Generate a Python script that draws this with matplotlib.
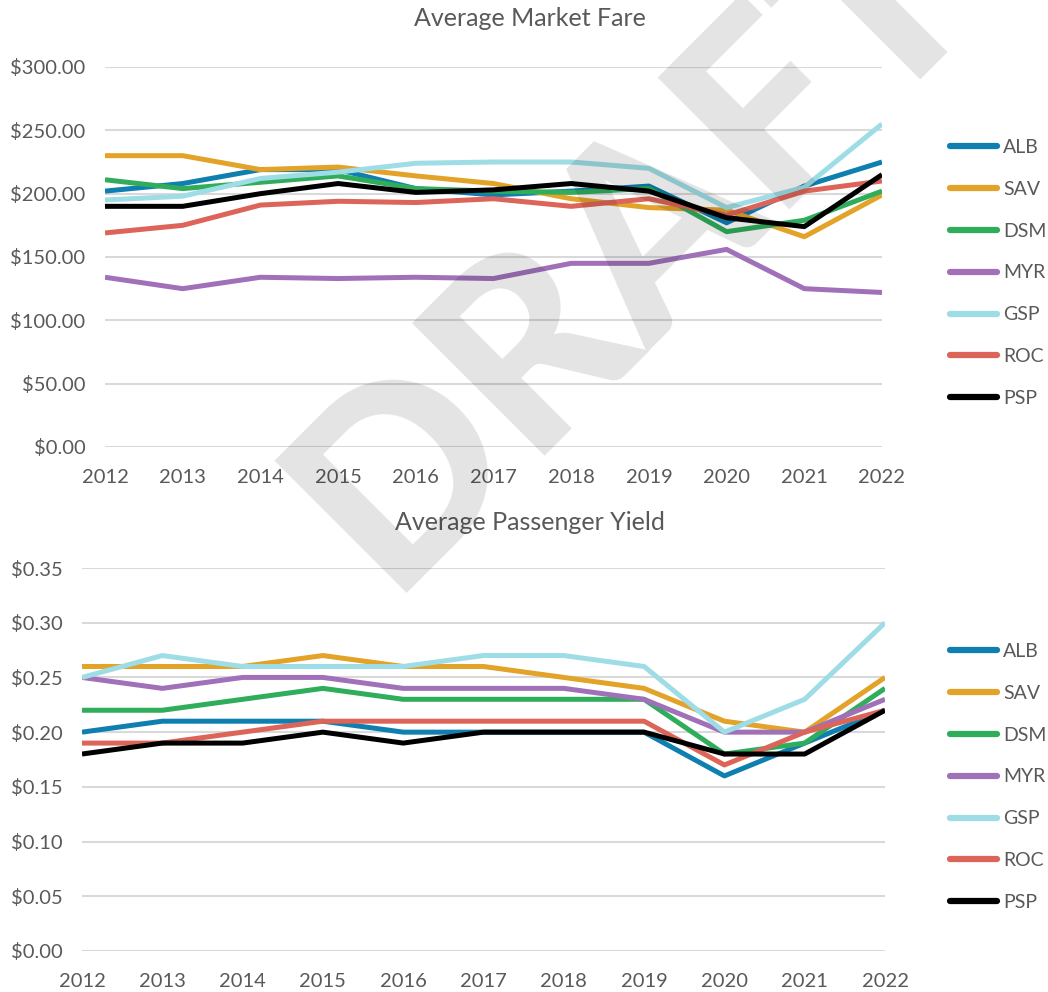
import matplotlib.pyplot as plt
from matplotlib.ticker import FuncFormatter

plt.rcParams['font.family'] = ['Lato', 'DejaVu Sans']

years = [2012, 2013, 2014, 2015, 2016, 2017, 2018, 2019, 2020, 2021, 2022]
airports = ["ALB", "SAV", "DSM", "MYR", "GSP", "ROC", "PSP"]
colors = ["#0f7fb0", "#e3a228", "#2fad5b", "#a071b9", "#9edde6", "#dd6458", "#000000"]

# Average market fare ($)
fare_alb = [202, 208, 219, 219, 204, 199, 202, 206, 177, 206, 225]
fare_sav = [230, 230, 219, 221, 214, 208, 196, 189, 187, 166, 199]
fare_dsm = [211, 204, 209, 214, 204, 202, 201, 204, 170, 179, 202]
fare_myr = [134, 125, 134, 133, 134, 133, 145, 145, 156, 125, 122]
fare_gsp = [195, 198, 212, 217, 224, 225, 225, 220, 189, 205, 255]
fare_roc = [169, 175, 191, 194, 193, 196, 190, 196, 183, 202, 210]
fare_psp = [190, 190, 200, 208, 201, 203, 208, 202, 181, 174, 215]

# Average passenger yield ($)
yield_alb = [0.20, 0.21, 0.21, 0.21, 0.20, 0.20, 0.20, 0.20, 0.16, 0.19, 0.22]
yield_sav = [0.26, 0.26, 0.26, 0.27, 0.26, 0.26, 0.25, 0.24, 0.21, 0.20, 0.25]
yield_dsm = [0.22, 0.22, 0.23, 0.24, 0.23, 0.23, 0.23, 0.23, 0.18, 0.19, 0.24]
yield_myr = [0.25, 0.24, 0.25, 0.25, 0.24, 0.24, 0.24, 0.23, 0.20, 0.20, 0.23]
yield_gsp = [0.25, 0.27, 0.26, 0.26, 0.26, 0.27, 0.27, 0.26, 0.20, 0.23, 0.30]
yield_roc = [0.19, 0.19, 0.20, 0.21, 0.21, 0.21, 0.21, 0.21, 0.17, 0.20, 0.22]
yield_psp = [0.18, 0.19, 0.19, 0.20, 0.19, 0.20, 0.20, 0.20, 0.18, 0.18, 0.22]

fares = [fare_alb, fare_sav, fare_dsm, fare_myr, fare_gsp, fare_roc, fare_psp]
yields = [yield_alb, yield_sav, yield_dsm, yield_myr, yield_gsp, yield_roc, yield_psp]

text_col = "#595959"
grid_col = "#d9d9d9"

fig = plt.figure(figsize=(10.48, 9.92), dpi=100)
ax1 = fig.add_axes([105/1048, 545/992, 777/1048, 380/992])
ax2 = fig.add_axes([82/1048, 41/992, 803/1048, 383/992])


def style_axis(ax, ymax, step, fmt, title, title_y):
    ax.set_xlim(years[0], years[-1])
    ax.set_ylim(0, ymax)
    ax.set_yticks([i * step for i in range(int(round(ymax / step)) + 1)])
    ax.set_xticks(years)
    ax.yaxis.set_major_formatter(FuncFormatter(fmt))
    ax.grid(axis="y", color=grid_col, linewidth=1.5)
    ax.set_axisbelow(True)
    for s in ax.spines.values():
        s.set_visible(False)
    ax.tick_params(length=0, labelsize=14.5, colors=text_col)
    ax.tick_params(axis="x", pad=16)
    ax.tick_params(axis="y", pad=14)
    fig.text(0.506, title_y, title, ha="center", va="center", fontsize=18, color=text_col)


for vals, name, c in zip(fares, airports, colors):
    ax1.plot(years, vals, color=c, linewidth=3.6, label=name, solid_capstyle="butt")
for vals, name, c in zip(yields, airports, colors):
    ax2.plot(years, vals, color=c, linewidth=3.6, label=name, solid_capstyle="butt")

style_axis(ax1, 300, 50, lambda v, p: f"${v:.2f}", "Average Market Fare", 1 - 19/992)
style_axis(ax2, 0.35, 0.05, lambda v, p: f"${v:.2f}", "Average Passenger Yield", 1 - 523/992)

for ax, y0 in [(ax1, 146), (ax2, 650)]:
    leg = ax.legend(loc="upper left", bbox_to_anchor=(942/1048, 1 - (y0 - 15)/992),
                    bbox_transform=fig.transFigure, frameon=False, fontsize=14,
                    handlelength=2.45, handletextpad=0.3, labelspacing=1.28, borderaxespad=0)
    for t in leg.get_texts():
        t.set_color(text_col)
    for h in leg.get_lines():
        h.set_linewidth(4.5)
        h.set_solid_capstyle("round")

# watermark
fig.text(387/1048, 1 - 593/992, "DRAFT", fontsize=185, fontweight=900, rotation=45,
         rotation_mode="anchor", ha="left", va="baseline",
         color="black", alpha=0.11, zorder=10)

fig.savefig("out.png", dpi=100)
